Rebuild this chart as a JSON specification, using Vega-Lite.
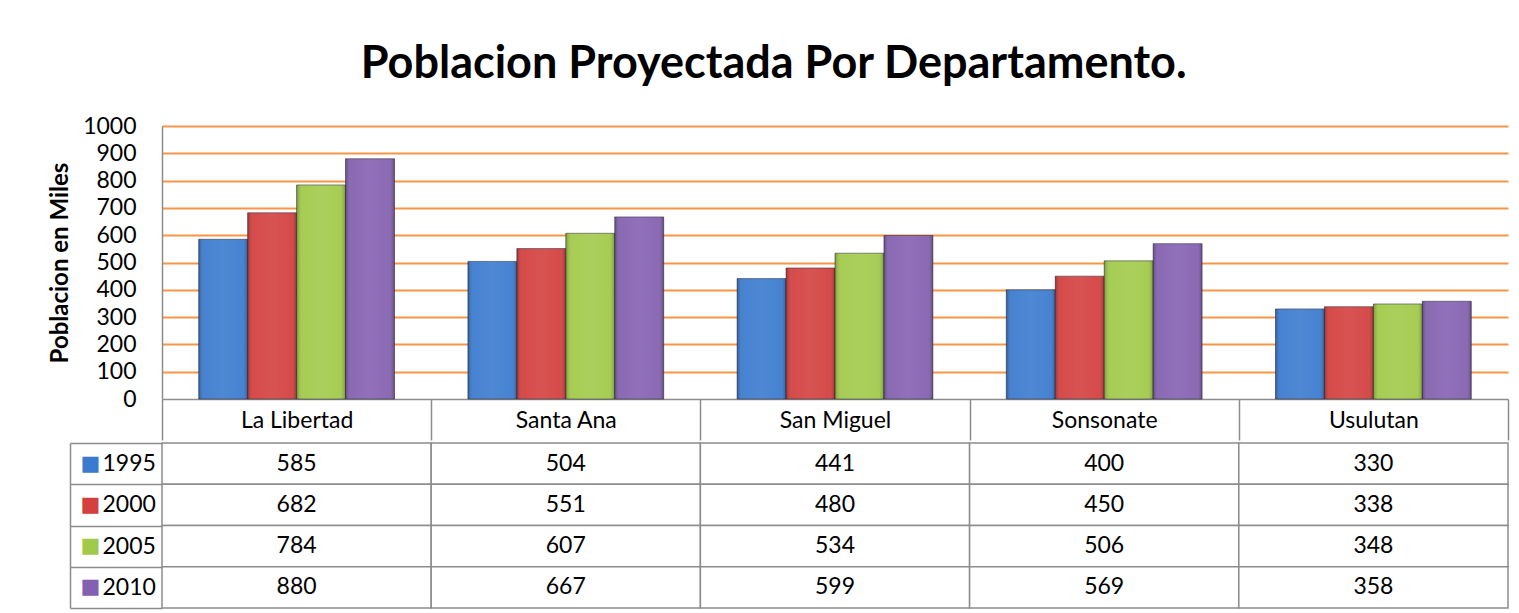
{
  "$schema": "https://vega.github.io/schema/vega-lite/v6.json",
  "background": "white",
  "padding": {"left": 48, "top": 42, "right": 5, "bottom": 3},
  "title": {
    "text": "Poblacion Proyectada Por Departamento.",
    "font": "Lato",
    "fontSize": 45,
    "fontWeight": "bold",
    "color": "black",
    "anchor": "middle",
    "dx": -5,
    "offset": 28
  },
  "datasets": {
    "pop": [
      {"dept": "La Libertad", "year": "1995", "value": 585},
      {"dept": "La Libertad", "year": "2000", "value": 682},
      {"dept": "La Libertad", "year": "2005", "value": 784},
      {"dept": "La Libertad", "year": "2010", "value": 880},
      {"dept": "Santa Ana", "year": "1995", "value": 504},
      {"dept": "Santa Ana", "year": "2000", "value": 551},
      {"dept": "Santa Ana", "year": "2005", "value": 607},
      {"dept": "Santa Ana", "year": "2010", "value": 667},
      {"dept": "San Miguel", "year": "1995", "value": 441},
      {"dept": "San Miguel", "year": "2000", "value": 480},
      {"dept": "San Miguel", "year": "2005", "value": 534},
      {"dept": "San Miguel", "year": "2010", "value": 599},
      {"dept": "Sonsonate", "year": "1995", "value": 400},
      {"dept": "Sonsonate", "year": "2000", "value": 450},
      {"dept": "Sonsonate", "year": "2005", "value": 506},
      {"dept": "Sonsonate", "year": "2010", "value": 569},
      {"dept": "Usulutan", "year": "1995", "value": 330},
      {"dept": "Usulutan", "year": "2000", "value": 338},
      {"dept": "Usulutan", "year": "2005", "value": 348},
      {"dept": "Usulutan", "year": "2010", "value": 358}
    ]
  },
  "spacing": -9,
  "vconcat": [
    {
      "width": 1346,
      "height": 273,
      "data": {"name": "pop"},
      "encoding": {
        "x": {
          "field": "dept", "type": "nominal", "sort": null,
          "scale": {"paddingInner": 0, "paddingOuter": 0},
          "axis": {
            "title": null, "orient": "bottom", "labelAngle": 0,
            "labelFont": "Lato", "labelFontSize": 23, "labelColor": "black",
            "labelBaseline": "middle", "labelPadding": -20,
            "domainColor": "#8c8c8c", "domainWidth": 1.5,
            "tickBand": "extent", "tickSize": 41, "tickColor": "#8c8c8c", "tickWidth": 1.5,
            "grid": false
          }
        },
        "xOffset": {
          "field": "year", "type": "nominal",
          "scale": {"paddingInner": 0, "paddingOuter": 0.75}
        },
        "y": {
          "field": "value", "type": "quantitative",
          "scale": {"domain": [0, 1000]},
          "axis": {
            "title": "Poblacion en Miles",
            "titleFont": "Lato", "titleFontSize": 24, "titleFontWeight": "bold", "titleColor": "black",
            "titlePadding": 10,
            "values": [0, 100, 200, 300, 400, 500, 600, 700, 800, 900, 1000],
            "format": "d",
            "labelFont": "Lato", "labelFontSize": 23, "labelColor": "black",
            "labelPadding": 26, "ticks": false,
            "domainColor": "#8c8c8c", "domainWidth": 1.5,
            "grid": true, "gridWidth": 2,
            "gridColor": {"condition": {"test": "datum.value === 0", "value": "transparent"}, "value": "#f79646"}
          }
        }
      },
      "layer": [
        {
          "mark": {"type": "bar", "stroke": "#2a2a3a", "strokeOpacity": 0.55, "strokeWidth": 1},
          "encoding": {
            "color": {
              "field": "year", "type": "nominal",
              "scale": {"domain": ["1995", "2000", "2005", "2010"], "range": ["#3b7bcf", "#d3403f", "#a2ca4a", "#8461b0"]},
              "legend": null
            }
          }
        },
        {
          "mark": {
            "type": "bar",
            "fill": {
              "gradient": "linear", "x1": 0, "x2": 1, "y1": 0, "y2": 0,
              "stops": [
                {"offset": 0, "color": "rgba(0,0,0,0.25)"},
                {"offset": 0.12, "color": "rgba(255,255,255,0.06)"},
                {"offset": 0.5, "color": "rgba(255,255,255,0.1)"},
                {"offset": 0.88, "color": "rgba(255,255,255,0.06)"},
                {"offset": 1, "color": "rgba(0,0,0,0.25)"}
              ]
            }
          }
        }
      ]
    },
    {
      "width": 1346,
      "height": 165,
      "data": {"name": "pop"},
      "layer": [
        {
          "mark": {"type": "rect", "fill": "white", "stroke": "#8c8c8c", "strokeWidth": 1.5},
          "encoding": {
            "x": {"field": "dept", "type": "nominal", "sort": null, "scale": {"paddingInner": 0, "paddingOuter": 0}, "axis": null},
            "y": {
              "field": "year", "type": "nominal",
              "scale": {"paddingInner": 0, "paddingOuter": 0},
              "axis": {
                "orient": "left", "title": null, "domain": false,
                "ticks": true, "tickBand": "extent", "tickSize": 92, "tickColor": "#8c8c8c", "tickWidth": 1.5,
                "labelFont": "Lato", "labelFontSize": 23, "labelColor": "black",
                "labelAlign": "left", "labelPadding": -32
              }
            }
          }
        },
        {
          "mark": {"type": "text", "font": "Lato", "fontSize": 23, "color": "black"},
          "encoding": {
            "x": {"field": "dept", "type": "nominal", "sort": null, "axis": null},
            "y": {
              "field": "year", "type": "nominal",
              "axis": {
                "orient": "left", "title": null, "offset": 92,
                "domain": true, "domainColor": "#8c8c8c", "domainWidth": 1.5,
                "ticks": false, "grid": false,
                "labelExpr": "'■'", "labelFont": "DejaVu Sans", "labelFontSize": 21,
                "labelAlign": "left", "labelPadding": -10,
                "labelColor": {"expr": "datum.value === '1995' ? '#3b7bcf' : datum.value === '2000' ? '#d3403f' : datum.value === '2005' ? '#a2ca4a' : '#8461b0'"}
              }
            },
            "text": {"field": "value", "type": "quantitative"}
          }
        }
      ],
      "resolve": {"axis": {"y": "independent"}}
    }
  ],
  "config": {
    "view": {"stroke": null},
    "font": "Lato"
  }
}
